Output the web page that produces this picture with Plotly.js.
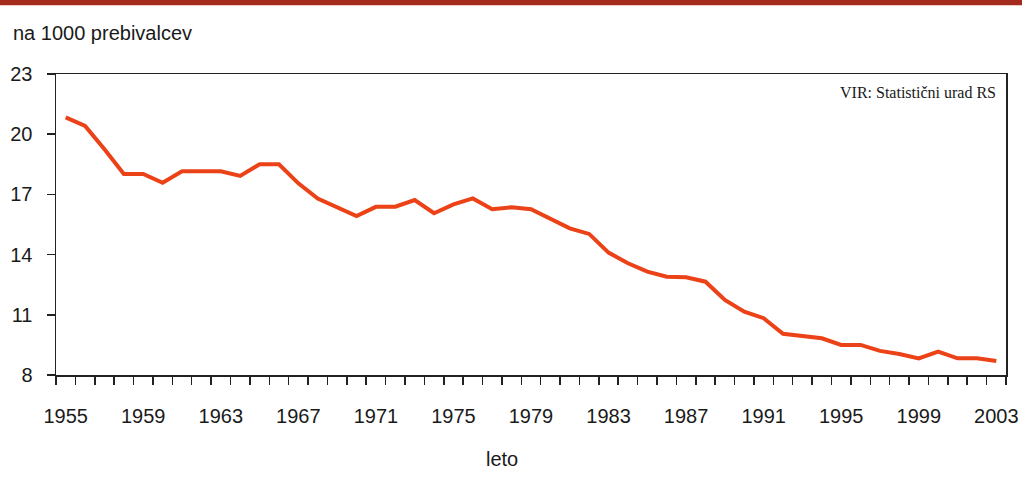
<!DOCTYPE html>
<html>
<head>
<meta charset="utf-8">
<script src="https://cdn.plot.ly/plotly-3.0.1.min.js"></script>
<style>html,body{margin:0;padding:0;background:#fff;}#chart{width:1022px;height:477px;}</style>
</head>
<body>
<div id="chart"></div>
<script>
const years = [1955,1956,1957,1958,1959,1960,1961,1962,1963,1964,1965,1966,1967,1968,1969,1970,1971,1972,1973,1974,1975,1976,1977,1978,1979,1980,1981,1982,1983,1984,1985,1986,1987,1988,1989,1990,1991,1992,1993,1994,1995,1996,1997,1998,1999,2000,2001,2002,2003];
const birthRate = [20.84,20.41,19.25,18.02,18.02,17.58,18.15,18.15,18.15,17.92,18.5,18.5,17.55,16.79,16.36,15.92,16.38,16.39,16.72,16.06,16.5,16.8,16.26,16.36,16.26,15.76,15.31,15.03,14.1,13.57,13.15,12.9,12.87,12.65,11.74,11.16,10.83,10.05,9.95,9.83,9.5,9.5,9.2,9.05,8.83,9.17,8.83,8.83,8.7];
const xTickLabels = ['1955','1959','1963','1967','1971','1975','1979','1983','1987','1991','1995','1999','2003'];
const xTickVals = xTickLabels.map(Number);
const yTickVals = [8,11,14,17,20,23];

const trace = {
  x: years, y: birthRate, type: 'scatter', mode: 'lines',
  line: {color: '#ec4218', width: 4}, hoverinfo: 'skip'
};
const layout = {
  width: 1022, height: 477,
  margin: {l: 56, r: 16, t: 74, b: 102},
  paper_bgcolor: '#ffffff', plot_bgcolor: '#ffffff',
  font: {family: 'Liberation Sans, Arial, sans-serif', size: 20, color: '#1a1a1a'},
  showlegend: false,
  xaxis: {
    range: [1954.5, 2003.5], showgrid: false, zeroline: false,
    showline: true, linecolor: '#222', linewidth: 1.5, mirror: true,
    tickmode: 'array', tickvals: xTickVals, ticktext: xTickLabels,
    ticks: '', ticklabelstandoff: 22,
    minor: {tickmode: 'linear', tick0: 1954.5, dtick: 1, ticks: 'outside', ticklen: 8, tickwidth: 1.5, tickcolor: '#222', showgrid: false},
    fixedrange: true
  },
  yaxis: {
    range: [8, 23], showgrid: false, zeroline: false,
    showline: true, linecolor: '#222', linewidth: 1.5, mirror: true,
    tickmode: 'array', tickvals: yTickVals, ticktext: yTickVals.map(String),
    ticks: 'outside', ticklen: 8, tickwidth: 1.5, tickcolor: '#222',
    ticklabelstandoff: 10, fixedrange: true
  },
  shapes: [
    {type: 'rect', xref: 'paper', yref: 'paper', x0: -0.06, x1: 1.02, y0: 1.228, y1: 1.26, fillcolor: '#a52a1e', line: {width: 0}, layer: 'above'}
  ],
  annotations: [
    {text: 'na 1000 prebivalcev', xref: 'paper', yref: 'paper', x: -0.047, y: 1.136, xanchor: 'left', yanchor: 'middle', showarrow: false, font: {size: 20, color: '#1a1a1a'}},
    {text: 'VIR: Statistični urad RS', xref: 'paper', yref: 'paper', x: 0.992, y: 0.94, xanchor: 'right', yanchor: 'middle', showarrow: false, font: {family: 'Liberation Serif, Times New Roman, serif', size: 16, color: '#1a1a1a'}},
    {text: 'leto', xref: 'paper', yref: 'paper', x: 0.469, y: -0.28, xanchor: 'center', yanchor: 'middle', showarrow: false, font: {size: 20, color: '#1a1a1a'}}
  ]
};
Plotly.newPlot('chart', [trace], layout, {displayModeBar: false, staticPlot: true});
</script>
</body>
</html>
